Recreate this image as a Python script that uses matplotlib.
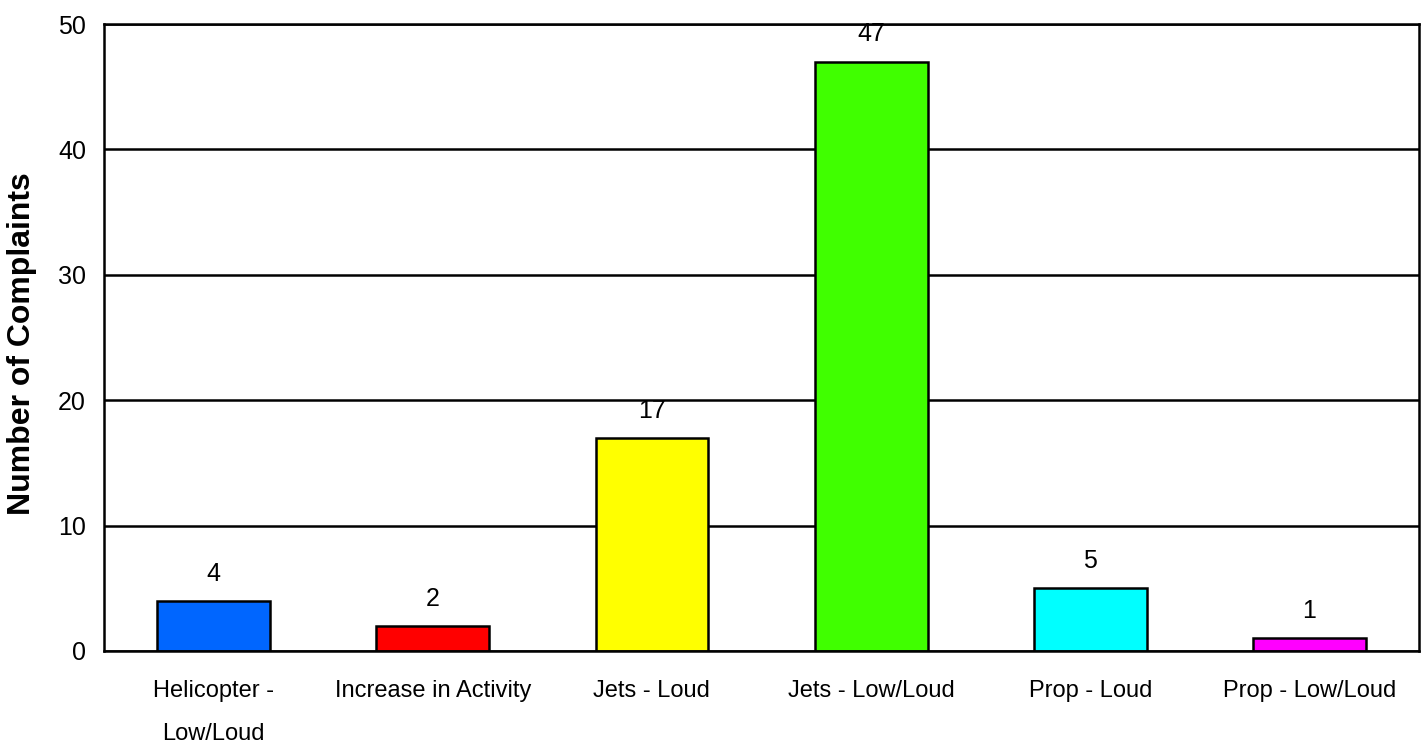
import matplotlib.pyplot as plt
import numpy as np

categories = ['Helicopter -\nLow/Loud', 'Increase in Activity', 'Jets - Loud',
              'Jets - Low/Loud', 'Prop - Loud', 'Prop - Low/Loud']
complaints = [4, 2, 17, 47, 5, 1]
bar_colors = ['#0066ff', '#ff0000', '#ffff00', '#40ff00', '#00ffff', '#ff00ff']
y_ticks = [0, 10, 20, 30, 40, 50]

fam = ['Liberation Sans', 'DejaVu Sans']

fig = plt.figure(figsize=(14.23, 7.51), dpi=100)
ax = fig.add_axes([0.0731, 0.1332, 0.9241, 0.8348])

x = np.arange(len(categories))
ax.bar(x, complaints, width=0.515, color=bar_colors, edgecolor='black',
       linewidth=1.8, zorder=3)

# value labels sit under the grid lines, like the original
for xi, v in zip(x, complaints):
    ax.annotate(str(v), (xi, v), xytext=(0, 11), textcoords='offset points',
                ha='center', va='bottom', fontsize=18, family=fam, zorder=1)

ax.set_xlim(-0.5, len(categories) - 0.5)
ax.set_ylim(0, 50)
ax.set_yticks(y_ticks)
ax.set_xticks(x)
ax.set_xticklabels(categories, family=fam, fontsize=17, linespacing=2.25)
ax.set_yticklabels([str(t) for t in y_ticks], family=fam, fontsize=18)
ax.tick_params(axis='x', length=0, pad=21)
ax.tick_params(axis='y', length=0, pad=13)

ax.yaxis.grid(True, color='black', linewidth=1.8, zorder=2)
ax.set_axisbelow(False)
for s in ax.spines.values():
    s.set_linewidth(1.8)
    s.set_zorder(4)

fig.text(22 / 1423, 0.543, 'Number of Complaints', family=fam, fontsize=23,
         fontweight='bold', rotation=90, ha='center', va='center')

fig.savefig('out.png', dpi=100)
plt.close(fig)
